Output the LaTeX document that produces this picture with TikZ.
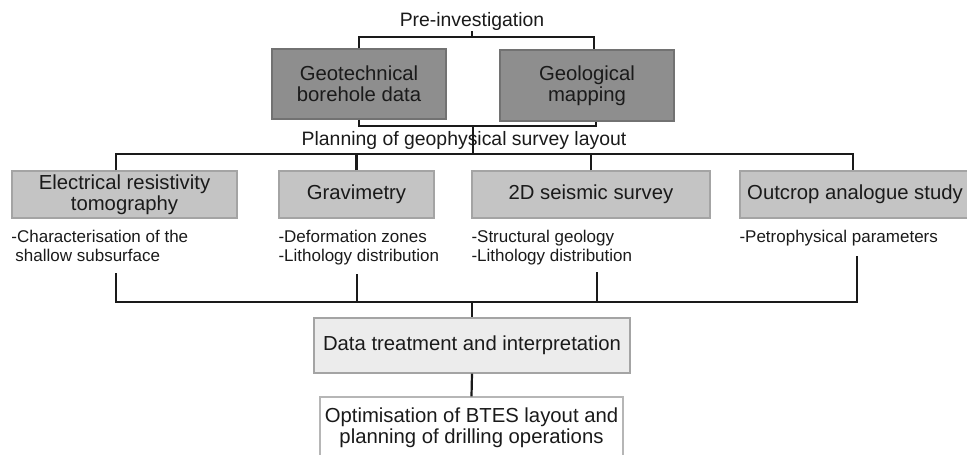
\documentclass[tikz,border=0pt]{standalone}
\usepackage{fontspec}
\setmainfont{Liberation Sans}
\usetikzlibrary{calc}
\definecolor{boxdark}{HTML}{8E8E8E}
\definecolor{boxmid}{HTML}{C4C4C4}
\definecolor{boxlight}{HTML}{ECECEC}
\definecolor{edgegray}{HTML}{A4A4A4}
\definecolor{linedark}{HTML}{1A1A1A}
\definecolor{textdark}{HTML}{1A1A1A}

\begin{document}
\begin{tikzpicture}[x=1pt,y=-1pt,
    box/.style={draw=edgegray,line width=1.4pt,inner sep=0pt,align=center,text=textdark,font=\fontsize{20.3}{21}\selectfont},
    darkbox/.style={box,fill=boxdark,draw=boxdark!80!black},
    midbox/.style={box,fill=boxmid},
    lightbox/.style={box,fill=boxlight},
    plainbox/.style={box,fill=white,draw=edgegray!80!white},
    title/.style={inner sep=0pt,text=textdark,font=\fontsize{19.4}{21}\selectfont},
    note/.style={inner sep=0pt,align=left,anchor=north west,text=textdark,font=\fontsize{17}{19.5}\selectfont},
    link/.style={draw=linedark,line width=2.2pt}]
    \useasboundingbox (0,0) rectangle (967,455);
    \node[title,anchor=base] (pre) at (472,27) {Pre-investigation};
    \node[darkbox,minimum width=174,minimum height=70] (geotech) at (359,84) {Geotechnical\\borehole data};
    \node[darkbox,minimum width=174,minimum height=71] (geomap) at (587,85.5) {Geological\\mapping};
    \node[title,anchor=base] (planning) at (464,145) {Planning of geophysical survey layout};
    \node[midbox,minimum width=225,minimum height=47] (ert) at (124.5,194.5) {Electrical resistivity\\tomography};
    \node[midbox,minimum width=155,minimum height=47] (grav) at (356.5,194.5) {Gravimetry};
    \node[midbox,minimum width=238,minimum height=47] (seis) at (591,194.5) {2D seismic survey};
    \node[midbox,minimum width=230,minimum height=47] (outc) at (855,194.5) {Outcrop analogue study};
    \node[note] (ertnote) at ($(ert.south west)+(0,11)$) {-Characterisation of the\\\hspace*{4pt}shallow subsurface};
    \node[note] (gravnote) at ($(grav.south west)+(0,11)$) {-Deformation zones\\-Lithology distribution};
    \node[note] (seisnote) at ($(seis.south west)+(0,11)$) {-Structural geology\\-Lithology distribution};
    \node[note] (outcnote) at ($(outc.south west)+(0,11)$) {-Petrophysical parameters};
    \node[lightbox,minimum width=316,minimum height=55] (treat) at (472,345.5) {Data treatment and interpretation};
    \node[plainbox,minimum width=303,minimum height=62] (optim) at (471.5,428) {Optimisation of BTES layout and\\planning of drilling operations};
    \coordinate (prebar) at (472,37);
    \coordinate (planbar) at (473,126);
    \coordinate (surveybar) at (473,154);
    \coordinate (resultbar) at (472,302);
    \coordinate (ertfoot) at (116,273);
    \coordinate (gravfoot) at (357,274);
    \coordinate (seisfoot) at (597,272);
    \coordinate (outcfoot) at (857,256);
    \draw[link] (pre.south) -- (prebar);
    \draw[link] (geotech.north) |- (prebar) -| ([xshift=7pt]geomap.north);
    \draw[link] (geotech.south) |- (planbar) -| ([xshift=9pt]geomap.south);
    \draw[link] (planbar) -- (surveybar);
    \draw[link] ([xshift=-8.5pt]ert.north) |- (surveybar) -| ([xshift=-2pt]outc.north);
    \draw[link] (grav.north) -- (grav.north |- surveybar);
    \draw[link] (seis.north) -- (seis.north |- surveybar);
    \draw[link] (ertfoot) |- (resultbar) -| (outcfoot);
    \draw[link] (gravfoot) -- (gravfoot |- resultbar);
    \draw[link] (seisfoot) -- (seisfoot |- resultbar);
    \draw[link] (resultbar) -- (treat.north);
    \draw[link] (treat.south) -- (optim.north);
\end{tikzpicture}
\end{document}
